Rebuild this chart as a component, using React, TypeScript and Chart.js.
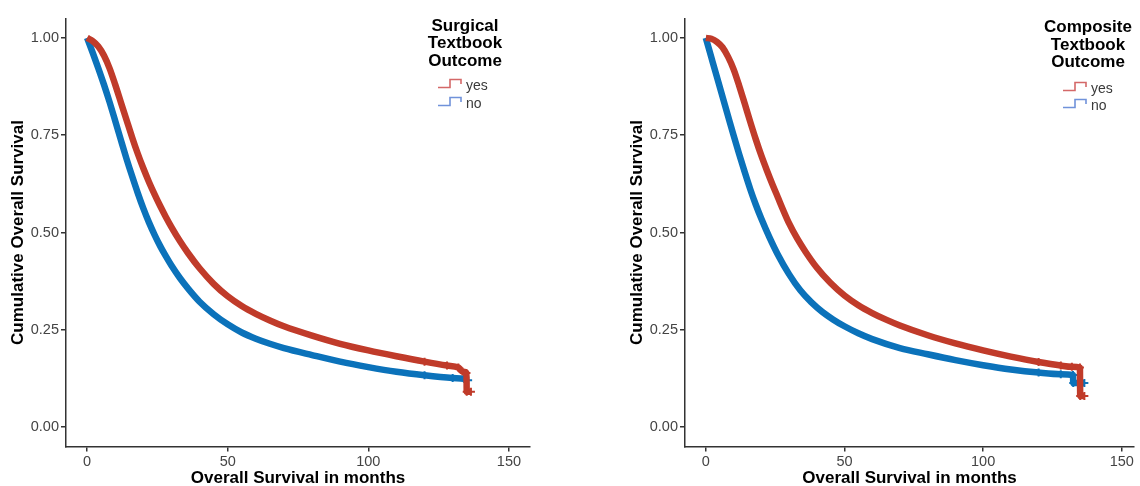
import React, { useEffect, useRef } from "react";
import { Chart, registerables } from "chart.js";
Chart.register(...registerables);

const xTicks = [0, 50, 100, 150];
const yTicks = [0, 0.25, 0.5, 0.75, 1.0];
const yTitle = "Cumulative Overall Survival";
const xTitle = "Overall Survival in months";
const seriesLabels = ["yes", "no"];

// Surgical Textbook Outcome
const surgYesT = [0, 2, 4, 6, 8, 10, 12, 14, 16, 18, 20, 22, 24, 26, 28, 30, 33, 36, 40, 45, 50, 55, 60, 65, 70, 80, 90, 100, 110, 120, 128, 132, 133.5, 134.9, 135, 136.5];
const surgYesS = [1.0, 0.992, 0.978, 0.955, 0.922, 0.88, 0.835, 0.79, 0.745, 0.703, 0.665, 0.63, 0.598, 0.568, 0.54, 0.514, 0.478, 0.446, 0.408, 0.368, 0.336, 0.311, 0.291, 0.274, 0.259, 0.235, 0.214, 0.197, 0.182, 0.168, 0.158, 0.153, 0.143, 0.139, 0.091, 0.091];
const surgNoT = [0, 2, 4, 6, 8, 10, 12, 14, 16, 18, 20, 22, 24, 26, 28, 30, 33, 36, 40, 45, 50, 55, 60, 65, 70, 80, 90, 100, 110, 120, 130, 134, 135.5];
const surgNoS = [1.0, 0.962, 0.922, 0.88, 0.835, 0.787, 0.738, 0.69, 0.645, 0.602, 0.562, 0.526, 0.494, 0.465, 0.439, 0.415, 0.383, 0.355, 0.322, 0.29, 0.264, 0.243, 0.227, 0.214, 0.203, 0.185, 0.168, 0.154, 0.142, 0.133, 0.126, 0.124, 0.12];

// Composite Textbook Outcome
const compYesT = [0, 2, 4, 6, 8, 10, 12, 14, 16, 18, 20, 22, 24, 26, 28, 30, 33, 36, 40, 45, 50, 55, 60, 65, 70, 80, 90, 100, 110, 120, 128, 132, 134.9, 135, 136.5];
const compYesS = [1.0, 0.998, 0.99, 0.976, 0.952, 0.92, 0.878, 0.832, 0.785, 0.74, 0.698, 0.66, 0.624, 0.59, 0.556, 0.524, 0.484, 0.45, 0.41, 0.37, 0.338, 0.313, 0.293, 0.276, 0.261, 0.236, 0.215, 0.197, 0.181, 0.167, 0.158, 0.155, 0.153, 0.08, 0.08];
const compNoT = [0, 2, 4, 6, 8, 10, 12, 14, 16, 18, 20, 23, 26, 30, 34, 38, 42, 46, 50, 55, 60, 70, 80, 90, 100, 110, 120, 128, 132.4, 132.5, 136.5];
const compNoS = [1.0, 0.95, 0.9, 0.85, 0.8, 0.75, 0.702, 0.656, 0.612, 0.572, 0.536, 0.487, 0.443, 0.393, 0.352, 0.321, 0.296, 0.276, 0.259, 0.241, 0.226, 0.203, 0.187, 0.172, 0.159, 0.148, 0.14, 0.136, 0.134, 0.113, 0.113];

const RED = "#C03B2A";
const BLUE = "#0B72BA";
const RED_KEY = "#D46868";
const BLUE_KEY = "#7092DA";
const FONT = "'Liberation Sans', Arial, sans-serif";

const pts = (t: number[], s: number[]) => t.map((x, i) => ({ x, y: s[i] }));

type KMProps = {
  left: number;
  width: number;
  xMax: number;
  yAxisWidth: number;
  yTitlePad: number;
  padRight: number;
  yesT: number[];
  yesS: number[];
  noT: number[];
  noS: number[];
};

function KMChart(p: KMProps) {
  const ref = useRef<HTMLCanvasElement | null>(null);
  useEffect(() => {
    if (!ref.current) return;
    const censor = (ctx: any) => {
      const raw = ctx.raw;
      return raw && raw.x >= 118 ? 4 : 0;
    };
    const mk = (label: string, color: string, t: number[], s: number[]) => ({
      label,
      data: pts(t, s),
      borderColor: color,
      backgroundColor: color,
      borderWidth: 6.5,
      cubicInterpolationMode: "monotone" as const,
      pointStyle: "cross" as const,
      pointRadius: censor,
      pointBorderWidth: 2,
      pointBorderColor: color,
      fill: false,
      borderCapStyle: "butt" as const,
    });
    const chart = new Chart(ref.current, {
      type: "line",
      data: {
        datasets: [
          mk(seriesLabels[0], RED, p.yesT, p.yesS),
          mk(seriesLabels[1], BLUE, p.noT, p.noS),
        ],
      },
      options: {
        responsive: false,
        animation: false,
        devicePixelRatio: 1,
        layout: { padding: { top: 18.5, right: p.padRight, left: 0, bottom: 0 } },
        plugins: { legend: { display: false }, tooltip: { enabled: false } },
        scales: {
          x: {
            type: "linear",
            min: -7.5,
            max: p.xMax,
            afterFit: (s: any) => {
              s.height = 39.5;
            },
            afterBuildTicks: (s: any) => {
              s.ticks = xTicks.map((v) => ({ value: v }));
            },
            border: { display: true, color: "#333333", width: 1.5 },
            grid: { display: true, drawOnChartArea: false, drawTicks: true, tickLength: 5, color: "#333333", lineWidth: 1.5 },
            ticks: { color: "#444444", font: { family: FONT, size: 14.5 }, padding: 2, maxRotation: 0 },
            title: {
              display: true,
              text: xTitle,
              color: "#000000",
              font: { family: FONT, size: 17, weight: "bold", lineHeight: 1 },
              padding: { top: 0, bottom: -1 },
            },
          },
          y: {
            type: "linear",
            min: -0.05,
            max: 1.05,
            afterFit: (s: any) => {
              s.width = p.yAxisWidth;
            },
            afterBuildTicks: (s: any) => {
              s.ticks = yTicks.map((v) => ({ value: v }));
            },
            border: { display: true, color: "#333333", width: 1.5 },
            grid: { display: true, drawOnChartArea: false, drawTicks: true, tickLength: 5, color: "#333333", lineWidth: 1.5 },
            ticks: {
              color: "#444444",
              font: { family: FONT, size: 14.5 },
              padding: 2,
              callback: (v: any) => Number(v).toFixed(2),
            },
            title: {
              display: true,
              text: yTitle,
              color: "#000000",
              font: { family: FONT, size: 17, weight: "bold", lineHeight: 1 },
              padding: { top: p.yTitlePad, bottom: 0 },
            },
          },
        },
      },
    });
    return () => chart.destroy();
  }, []);
  return (
    <div style={{ position: "absolute", left: p.left, top: 0, width: p.width, height: 486 }}>
      <canvas ref={ref} width={p.width} height={486} style={{ display: "block" }} />
    </div>
  );
}

function Legend({ cx, titleTop, lines, keyX, rowY }: { cx: number; titleTop: number; lines: string[]; keyX: number; rowY: number[] }) {
  const colors = [RED_KEY, BLUE_KEY];
  return (
    <>
      <div
        style={{
          position: "absolute",
          left: cx - 80,
          width: 160,
          top: titleTop,
          textAlign: "center",
          fontFamily: FONT,
          fontWeight: "bold",
          fontSize: 17,
          lineHeight: "17.5px",
          color: "#000",
        }}
      >
        {lines.map((l, i) => (
          <div key={i}>{l}</div>
        ))}
      </div>
      {seriesLabels.map((lab, i) => (
        <div key={lab} style={{ position: "absolute", left: keyX, top: rowY[i] - 9, height: 18, display: "flex", alignItems: "center" }}>
          <svg width={25} height={18} style={{ display: "block" }}>
            <polyline points="0,11.5 12,11.5 12,3.5 23,3.5 23,8" fill="none" stroke={colors[i]} strokeWidth={1.6} />
          </svg>
          <span style={{ fontFamily: FONT, fontSize: 14, color: "#3A3A3A", marginLeft: 3, lineHeight: "18px" }}>{lab}</span>
        </div>
      ))}
    </>
  );
}

export default function App() {
  return (
    <div style={{ position: "fixed", left: 0, top: 0, width: 1140, height: 486, background: "#fff", overflow: "hidden" }}>
      <KMChart left={0} width={570} xMax={157.5} yAxisWidth={66} yTitlePad={10} padRight={40} yesT={surgYesT} yesS={surgYesS} noT={surgNoT} noS={surgNoS} />
      <KMChart left={570} width={570} xMax={154.4} yAxisWidth={115} yTitlePad={59} padRight={0} yesT={compYesT} yesS={compYesS} noT={compNoT} noS={compNoS} />
      <Legend cx={465} titleTop={16.5} lines={["Surgical", "Textbook", "Outcome"]} keyX={438} rowY={[85, 102.5]} />
      <Legend cx={1088} titleTop={18} lines={["Composite", "Textbook", "Outcome"]} keyX={1063} rowY={[88, 104.5]} />
    </div>
  );
}
